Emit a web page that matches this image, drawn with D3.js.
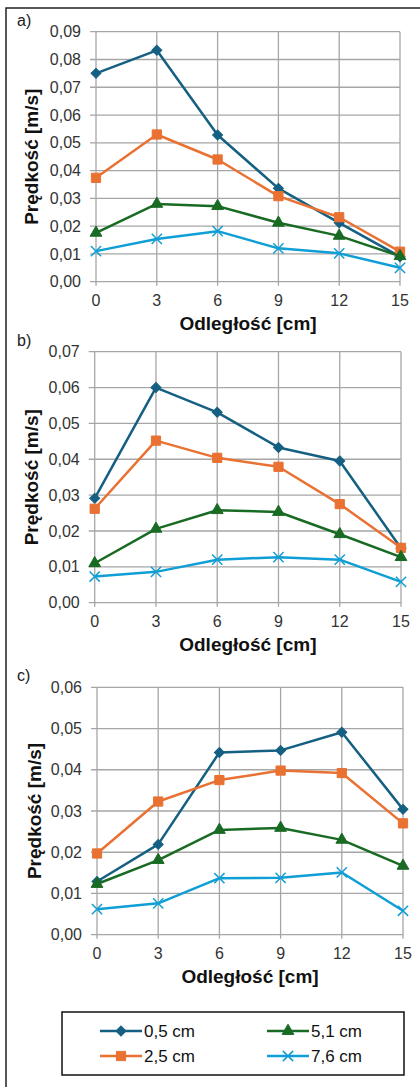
<!DOCTYPE html>
<html>
<head>
<meta charset="utf-8">
<script src="https://cdn.jsdelivr.net/npm/d3@7"></script>
<style>
  body { margin: 0; background: #fff; }
  svg { display: block; font-family: "Liberation Sans", Arial, sans-serif; }
</style>
</head>
<body>
<svg id="chart" width="420" height="1087"></svg>
<script>
// distances (x axis) shared by all panels
const distances = [0, 3, 6, 9, 12, 15];
const seriesNames = ["0,5 cm", "2,5 cm", "5,1 cm", "7,6 cm"];
const seriesColors = ["#156082", "#E97132", "#196B24", "#0F9ED5"];

// panel a)
const a_05 = [0.0750, 0.0833, 0.0528, 0.0336, 0.0212, 0.0090];
const a_25 = [0.0374, 0.0530, 0.0440, 0.0308, 0.0232, 0.0108];
const a_51 = [0.0176, 0.0280, 0.0272, 0.0212, 0.0165, 0.0092];
const a_76 = [0.0110, 0.0154, 0.0182, 0.0120, 0.0102, 0.0050];
const a_ticks = [0, 0.01, 0.02, 0.03, 0.04, 0.05, 0.06, 0.07, 0.08, 0.09];

// panel b)
const b_05 = [0.0291, 0.0600, 0.0531, 0.0433, 0.0395, 0.0152];
const b_25 = [0.0262, 0.0452, 0.0404, 0.0379, 0.0275, 0.0153];
const b_51 = [0.0110, 0.0206, 0.0258, 0.0253, 0.0191, 0.0127];
const b_76 = [0.0073, 0.0086, 0.0120, 0.0127, 0.0120, 0.0058];
const b_ticks = [0, 0.01, 0.02, 0.03, 0.04, 0.05, 0.06, 0.07];

// panel c)
const c_05 = [0.0129, 0.0219, 0.0442, 0.0447, 0.0491, 0.0304];
const c_25 = [0.0197, 0.0323, 0.0375, 0.0398, 0.0392, 0.0270];
const c_51 = [0.0123, 0.0181, 0.0254, 0.0259, 0.0230, 0.0167];
const c_76 = [0.0062, 0.0076, 0.0137, 0.0138, 0.0151, 0.0058];
const c_ticks = [0, 0.01, 0.02, 0.03, 0.04, 0.05, 0.06];

let svg = d3.select("#chart");
svg.append("rect").attr("width", 420).attr("height", 1087).attr("fill", "#fff");

// outer frame (top + left only visible)
svg.append("path")
  .attr("d", "M6,1087V8H420")
  .attr("fill", "none").attr("stroke", "#222").attr("stroke-width", 1.5);

let fmt = v => d3.format(".2f")(v).replace(".", ",");
let crossSym = d3.symbolTimes || d3.symbolCross;

let markers = [
  {type: d3.symbolSquare, size: 50, rot: 45, fill: true},
  {type: d3.symbolSquare, size: 85, rot: 0, fill: true},
  {type: d3.symbolTriangle, size: 60, rot: 0, fill: true},
  {type: crossSym, size: 70, rot: 0, fill: false}
];

function drawMarker(g, i, x, y) {
  let m = markers[i];
  let p = g.append("path")
    .attr("d", d3.symbol().type(m.type).size(m.size)())
    .attr("transform", "translate(" + x + "," + y + ") rotate(" + m.rot + ")");
  if (m.fill) p.attr("fill", seriesColors[i]).attr("stroke", seriesColors[i]).attr("stroke-width", 1);
  else p.attr("fill", "none").attr("stroke", seriesColors[i]).attr("stroke-width", 1.5);
}

function drawPanel(p) {
  let x = d3.scaleLinear().domain([0, 15]).range([p.left, p.right]);
  let y = d3.scaleLinear().domain([0, d3.max(p.ticks)]).range([p.bottom, p.top]);
  let g = svg.append("g");

  // horizontal grid (with small tick stubs on the left)
  g.append("g").selectAll("line").data(p.ticks).enter().append("line")
    .attr("x1", p.left - 6).attr("x2", p.right)
    .attr("y1", d => y(d)).attr("y2", d => y(d))
    .attr("stroke", "#a6a6a6").attr("stroke-width", 1.3);

  // vertical grid
  g.append("g").selectAll("line").data(distances).enter().append("line")
    .attr("x1", d => x(d)).attr("x2", d => x(d))
    .attr("y1", p.top).attr("y2", p.bottom + 4)
    .attr("stroke", "#a6a6a6").attr("stroke-width", 1.3);

  // y tick labels
  g.append("g").selectAll("text").data(p.ticks).enter().append("text")
    .attr("x", p.left - 15).attr("y", d => y(d)).attr("dy", "0.35em")
    .attr("text-anchor", "end").attr("font-size", 16).attr("fill", "#333")
    .text(fmt);

  // x tick labels
  g.append("g").selectAll("text").data(distances).enter().append("text")
    .attr("x", d => x(d)).attr("y", p.bottom + 24)
    .attr("text-anchor", "middle").attr("font-size", 16).attr("fill", "#333")
    .text(d => d);

  // axis titles
  g.append("text")
    .attr("x", (p.left + p.right) / 2).attr("y", p.bottom + 48)
    .attr("text-anchor", "middle").attr("font-size", 19).attr("font-weight", "bold")
    .attr("fill", "#111")
    .text("Odległość [cm]");

  g.append("text")
    .attr("transform", "translate(" + (p.yTitleX) + "," + ((p.top + p.bottom) / 2) + ") rotate(-90)")
    .attr("text-anchor", "middle").attr("font-size", 19).attr("font-weight", "bold")
    .attr("fill", "#111")
    .text("Prędkość [m/s]");

  // panel label
  g.append("text")
    .attr("x", 17).attr("y", p.top - 6)
    .attr("font-size", 16).attr("fill", "#222")
    .text(p.label);

  // series
  let line = d3.line().x((d, i) => x(distances[i])).y(d => y(d));
  p.series.forEach((vals, si) => {
    g.append("path")
      .datum(vals)
      .attr("d", line)
      .attr("fill", "none")
      .attr("stroke", seriesColors[si])
      .attr("stroke-width", 2.5)
      .attr("stroke-linejoin", "round");
    vals.forEach((v, i) => drawMarker(g, si, x(distances[i]), y(v)));
  });
}

drawPanel({label: "a)", left: 96, right: 400, top: 31.7, bottom: 281.7, yTitleX: 38,
  ticks: a_ticks, series: [a_05, a_25, a_51, a_76]});
drawPanel({label: "b)", left: 94.7, right: 401, top: 351.7, bottom: 602.7, yTitleX: 38,
  ticks: b_ticks, series: [b_05, b_25, b_51, b_76]});
drawPanel({label: "c)", left: 97, right: 403, top: 687.3, bottom: 934.7, yTitleX: 41,
  ticks: c_ticks, series: [c_05, c_25, c_51, c_76]});

// LEGEND
svg.append("rect")
  .attr("x", 62).attr("y", 1012).attr("width", 342).attr("height", 63)
  .attr("fill", "#fff").attr("stroke", "#111").attr("stroke-width", 1.5);

let legendPos = [
  {x: 100, y: 1031}, {x: 100, y: 1056}, {x: 267, y: 1031}, {x: 267, y: 1056}
];
seriesNames.forEach((name, i) => {
  let lp = legendPos[i];
  let lg = svg.append("g");
  lg.append("line")
    .attr("x1", lp.x).attr("x2", lp.x + 42).attr("y1", lp.y).attr("y2", lp.y)
    .attr("stroke", seriesColors[i]).attr("stroke-width", 2.5);
  drawMarker(lg, i, lp.x + 21, lp.y);
  lg.append("text")
    .attr("x", lp.x + 44).attr("y", lp.y).attr("dy", "0.35em")
    .attr("font-size", 17).attr("fill", "#111")
    .text(name);
});
</script>
</body>
</html>
